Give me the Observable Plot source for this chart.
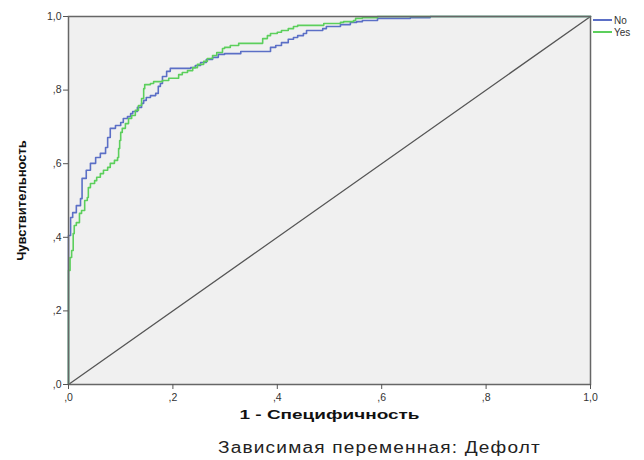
<!DOCTYPE html>
<html>
<head>
<meta charset="utf-8">
<script src="https://cdn.jsdelivr.net/npm/d3@7"></script>
<script src="https://cdn.jsdelivr.net/npm/@observablehq/plot@0.6"></script>
<style>
  html, body { margin: 0; padding: 0; background: #fff; }
  #wrap { position: relative; width: 644px; height: 460px; overflow: hidden; }
  svg [aria-label="x-axis label"] text, svg [aria-label="y-axis label"] text { font-weight: bold; }
  #legend { position: absolute; left: 593px; top: 14px; font: 10px "Liberation Sans", Arial, sans-serif; color: #333; }
  #legend div { display: flex; align-items: center; height: 12px; white-space: nowrap; }
  #legend span.sw { display: inline-block; width: 19px; height: 2px; margin-right: 2px; }
  #caption { position: absolute; left: 218px; top: 439px; font: 16px "Liberation Sans", Arial, sans-serif; letter-spacing: 1px; color: #222; white-space: nowrap; transform-origin: 0 0; }
</style>
</head>
<body>
<div id="wrap">
  <div id="chart"></div>
  <div id="legend"></div>
  <div id="caption"></div>
</div>
<script>
// ---- data ----
const seriesNames = ["No", "Yes"];
const seriesColors = ["#5b6fc6", "#5ccf5c"];
const tickValues = [0, 0.2, 0.4, 0.6, 0.8, 1.0];
const tickLabels = [",0", ",2", ",4", ",6", ",8", "1,0"];
const xLabel = "1 - Специфичность";
const yLabel = "Чувствительность";
const captionText = "Зависимая переменная: Дефолт";

// "No" ROC curve: 1 - specificity, sensitivity (step corners)
const fprNo = [0, 0.004, 0.008, 0.015, 0.023, 0.026, 0.034, 0.042, 0.052, 0.061, 0.071, 0.075, 0.080, 0.090, 0.100, 0.105, 0.113, 0.119, 0.123, 0.132, 0.140, 0.144, 0.149, 0.157, 0.167, 0.172, 0.176, 0.180, 0.188, 0.195, 0.234, 0.243, 0.253, 0.264, 0.276, 0.287, 0.299, 0.330, 0.387, 0.397, 0.408, 0.421, 0.431, 0.439, 0.450, 0.456, 0.487, 0.494, 0.521, 0.540, 0.552, 0.563, 0.592, 0.655, 0.693, 0.770, 1.0];
const tprNo = [0, 0.405, 0.454, 0.467, 0.486, 0.505, 0.560, 0.582, 0.601, 0.617, 0.628, 0.644, 0.671, 0.696, 0.704, 0.712, 0.723, 0.728, 0.736, 0.742, 0.753, 0.764, 0.772, 0.780, 0.785, 0.791, 0.810, 0.818, 0.837, 0.851, 0.859, 0.861, 0.867, 0.875, 0.883, 0.889, 0.897, 0.899, 0.905, 0.916, 0.921, 0.929, 0.938, 0.943, 0.948, 0.954, 0.962, 0.967, 0.973, 0.978, 0.984, 0.986, 0.989, 0.995, 0.997, 1.0, 1.0];

// "Yes" ROC curve
const fprYes = [0, 0.003, 0.006, 0.009, 0.011, 0.015, 0.021, 0.025, 0.031, 0.036, 0.038, 0.042, 0.050, 0.054, 0.061, 0.067, 0.075, 0.080, 0.088, 0.094, 0.096, 0.098, 0.100, 0.103, 0.109, 0.115, 0.121, 0.128, 0.134, 0.140, 0.144, 0.146, 0.157, 0.163, 0.180, 0.192, 0.211, 0.218, 0.228, 0.238, 0.247, 0.259, 0.266, 0.276, 0.284, 0.295, 0.299, 0.310, 0.326, 0.372, 0.381, 0.387, 0.400, 0.408, 0.421, 0.431, 0.439, 0.489, 0.521, 0.527, 0.546, 0.550, 0.563, 0.592, 1.0];
const tprYes = [0, 0.310, 0.345, 0.364, 0.410, 0.432, 0.440, 0.465, 0.473, 0.500, 0.508, 0.535, 0.546, 0.554, 0.563, 0.573, 0.582, 0.590, 0.601, 0.609, 0.617, 0.641, 0.663, 0.685, 0.696, 0.709, 0.723, 0.731, 0.745, 0.758, 0.777, 0.804, 0.815, 0.818, 0.823, 0.826, 0.832, 0.842, 0.848, 0.853, 0.861, 0.870, 0.878, 0.886, 0.894, 0.902, 0.913, 0.916, 0.921, 0.927, 0.940, 0.948, 0.954, 0.957, 0.962, 0.967, 0.973, 0.976, 0.981, 0.984, 0.986, 0.989, 0.995, 0.997, 1.0];

const diagX = [0, 1];
const diagY = [0, 1];

// ---- build ----
const rowsNo = fprNo.map((x, i) => ({x, y: tprNo[i]}));
const rowsYes = fprYes.map((x, i) => ({x, y: tprYes[i]}));
const rowsDiag = diagX.map((x, i) => ({x, y: diagY[i]}));
const fmt = v => tickLabels[tickValues.findIndex(t => Math.abs(t - v) < 1e-9)];

const chart = Plot.plot({
  width: 644,
  height: 432,
  marginLeft: 68,
  marginRight: 54,
  marginTop: 16,
  marginBottom: 48,
  style: { fontFamily: "'Liberation Sans', Arial, sans-serif", fontSize: "10px", color: "#333", background: "#fff" },
  x: { domain: [0, 1] },
  y: { domain: [0, 1] },
  marks: [
    Plot.frame({ fill: "#f0f0f0", stroke: null }),
    Plot.line(rowsDiag, { x: "x", y: "y", stroke: "#555", strokeWidth: 1.3 }),
    Plot.line(rowsNo, { x: "x", y: "y", curve: "step-before", stroke: seriesColors[0], strokeWidth: 1.6 }),
    Plot.line(rowsYes, { x: "x", y: "y", curve: "step-before", stroke: seriesColors[1], strokeWidth: 1.6 }),
    Plot.frame({ stroke: "#666", strokeWidth: 1.5 }),
    Plot.axisX({ ticks: tickValues, tickFormat: fmt, tickSize: 5, tickPadding: 4, stroke: "#555",
      label: xLabel, labelAnchor: "center", labelOffset: 34, labelArrow: "none", fontSize: 10.5 }),
    Plot.axisY({ ticks: tickValues, tickFormat: fmt, tickSize: 5, tickPadding: 2, stroke: "#555",
      label: yLabel, labelAnchor: "center", labelOffset: 52, labelArrow: "none", fontSize: 10.5 })
  ]
});
document.getElementById("chart").appendChild(chart);

// bigger axis labels
chart.querySelectorAll('[aria-label="x-axis label"] text, [aria-label="y-axis label"] text').forEach(t => {
  t.setAttribute("font-size", "13");
  t.style.fontSize = "13px";
  t.style.fill = "#111";
});
chart.querySelectorAll('[aria-label="x-axis label"] text').forEach(t => {
  t.setAttribute("textLength", "180");
  t.setAttribute("lengthAdjust", "spacingAndGlyphs");
});

const legend = document.getElementById("legend");
seriesNames.forEach((n, i) => {
  const d = document.createElement("div");
  const s = document.createElement("span");
  s.className = "sw";
  s.style.background = seriesColors[i];
  d.appendChild(s);
  d.appendChild(document.createTextNode(n));
  legend.appendChild(d);
});
const cap = document.getElementById("caption");
cap.textContent = captionText;
const w = cap.getBoundingClientRect().width;
cap.style.transform = `scaleX(${323 / w})`;
</script>
</body>
</html>
